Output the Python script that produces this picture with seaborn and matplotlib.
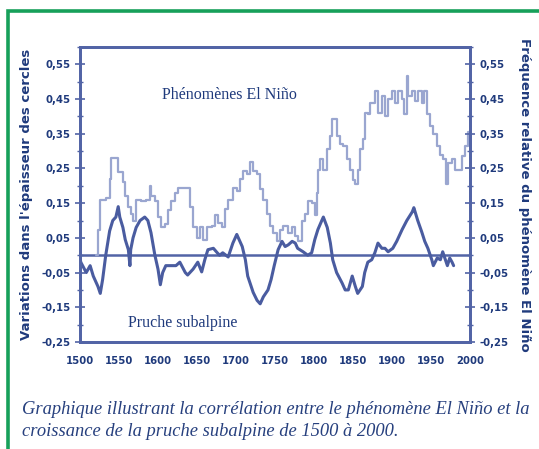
import matplotlib
matplotlib.use("Agg")
import matplotlib.pyplot as plt
import seaborn as sns
import pandas as pd
from matplotlib.patches import Rectangle
from matplotlib.ticker import MultipleLocator

# pruche subalpine : variations dans l'epaisseur des cercles
pruche_annees = [1500, 1501, 1508, 1513, 1517, 1523, 1526, 1529, 1533, 1538, 1542, 1546, 1549, 1551,
                 1555, 1558, 1562, 1564, 1565, 1568, 1572, 1577, 1583, 1587, 1591, 1596, 1600, 1603,
                 1606, 1610, 1617, 1623, 1628, 1635, 1638, 1645, 1651, 1656, 1660, 1664, 1671, 1676,
                 1679, 1683, 1690, 1696, 1701, 1708, 1712, 1715, 1722, 1727, 1731, 1735, 1741, 1745,
                 1749, 1754, 1759, 1763, 1767, 1772, 1776, 1779, 1786, 1792, 1797, 1801, 1805, 1810,
                 1812, 1817, 1821, 1824, 1829, 1836, 1840, 1844, 1849, 1853, 1856, 1862, 1865, 1869,
                 1874, 1878, 1882, 1887, 1891, 1895, 1901, 1906, 1913, 1919, 1926, 1928, 1933, 1938,
                 1942, 1946, 1951, 1953, 1958, 1962, 1965, 1971, 1974, 1977, 1979]
pruche_valeurs = [-0.008, -0.02, -0.05, -0.03, -0.06, -0.09, -0.11, -0.07, 0.0, 0.07, 0.10, 0.11, 0.14, 0.11,
                  0.08, 0.045, 0.016, -0.03, 0.016, 0.05, 0.08, 0.10, 0.11, 0.10, 0.065, 0.0, -0.04, -0.085,
                  -0.05, -0.03, -0.03, -0.03, -0.02, -0.05, -0.057, -0.04, -0.02, -0.048, -0.013, 0.016, 0.02, 0.007,
                  0.0, 0.007, -0.005, 0.035, 0.06, 0.025, -0.013, -0.06, -0.107, -0.13, -0.14, -0.12, -0.10, -0.07,
                  -0.03, 0.016, 0.04, 0.025, 0.03, 0.04, 0.035, 0.02, 0.01, 0.0, 0.007, 0.045, 0.074, 0.10,
                  0.11, 0.08, 0.035, -0.013, -0.05, -0.08, -0.10, -0.10, -0.06, -0.09, -0.11, -0.09, -0.05, -0.02,
                  -0.013, 0.007, 0.035, 0.02, 0.02, 0.01, 0.02, 0.04, 0.074, 0.10, 0.125, 0.137, 0.10, 0.068,
                  0.04, 0.02, -0.013, -0.03, -0.008, -0.013, 0.01, -0.03, -0.008, -0.02, -0.03]

# frequence relative du phenomene El Nino
nino_annees = [1521, 1523, 1526, 1533, 1538, 1540, 1546, 1549, 1553, 1555, 1558, 1562, 1565, 1568,
               1572, 1578, 1585, 1590, 1591, 1596, 1600, 1604, 1609, 1613, 1617, 1622, 1625, 1631,
               1637, 1641, 1645, 1650, 1654, 1658, 1663, 1669, 1673, 1677, 1682, 1686, 1690, 1696,
               1701, 1705, 1709, 1714, 1718, 1722, 1727, 1731, 1735, 1740, 1744, 1747, 1750, 1753,
               1756, 1760, 1767, 1772, 1776, 1779, 1785, 1788, 1792, 1797, 1801, 1804, 1805, 1808,
               1812, 1817, 1821, 1823, 1827, 1829, 1833, 1837, 1842, 1846, 1850, 1853, 1856, 1859,
               1863, 1865, 1869, 1872, 1874, 1878, 1882, 1887, 1891, 1895, 1900, 1904, 1908, 1913,
               1915, 1919, 1921, 1926, 1929, 1933, 1938, 1941, 1945, 1949, 1953, 1958, 1962, 1965,
               1969, 1972, 1977, 1981, 1985, 1990, 1994, 1997, 2000]
nino_valeurs = [0.0, 0.073, 0.16, 0.166, 0.22, 0.28, 0.28, 0.24, 0.24, 0.21, 0.17, 0.14, 0.12, 0.10,
                0.16, 0.155, 0.16, 0.20, 0.17, 0.155, 0.11, 0.08, 0.09, 0.13, 0.155, 0.18, 0.195, 0.195,
                0.195, 0.14, 0.08, 0.05, 0.08, 0.045, 0.08, 0.083, 0.117, 0.094, 0.08, 0.132, 0.16, 0.195,
                0.185, 0.22, 0.242, 0.233, 0.27, 0.242, 0.233, 0.19, 0.16, 0.12, 0.083, 0.065, 0.065, 0.04,
                0.074, 0.083, 0.065, 0.08, 0.055, 0.04, 0.10, 0.12, 0.155, 0.15, 0.117, 0.18, 0.247, 0.277,
                0.247, 0.305, 0.343, 0.393, 0.393, 0.343, 0.32, 0.315, 0.277, 0.247, 0.218, 0.204, 0.247, 0.305,
                0.334, 0.41, 0.407, 0.44, 0.44, 0.474, 0.41, 0.46, 0.40, 0.45, 0.474, 0.44, 0.474, 0.45,
                0.407, 0.517, 0.46, 0.474, 0.445, 0.474, 0.44, 0.474, 0.407, 0.372, 0.35, 0.315, 0.29, 0.277,
                0.204, 0.267, 0.277, 0.247, 0.247, 0.286, 0.315, 0.355, 0.334]

y_ticks = [-0.25, -0.15, -0.05, 0.05, 0.15, 0.25, 0.35, 0.45, 0.55]
y_tick_labels = ["-0,25", "-0,15", "-0,05", "0,05", "0,15", "0,25", "0,35", "0,45", "0,55"]
x_ticks = [1500, 1550, 1600, 1650, 1700, 1750, 1800, 1850, 1900, 1950, 2000]

pruche = pd.DataFrame({"annee": pruche_annees, "valeur": pruche_valeurs})
nino = pd.DataFrame({"annee": nino_annees, "valeur": nino_valeurs})

sns.set_theme(style="white")
navy = "#1f3a7c"
axe_col = "#5264a6"

fig = plt.figure(figsize=(5.39, 4.49), dpi=100)
fig.patch.set_facecolor("white")
fig.patches.append(Rectangle((8 / 539, -0.05), 1.1, 1 - 11 / 449 + 0.05, transform=fig.transFigure,
                             fill=False, edgecolor="#17a05a", linewidth=2.6))

ax = fig.add_axes([80 / 539, 1 - 342 / 449, 390 / 539, 295 / 449])
ax.set_facecolor("white")

sns.lineplot(data=nino, x="annee", y="valeur", ax=ax, color="#9aa6d0", linewidth=1.6,
             drawstyle="steps-post", sort=False)
sns.lineplot(data=pruche, x="annee", y="valeur", ax=ax, color="#4a5ca0", linewidth=2.2, sort=False)
ax.axhline(0, color=axe_col, linewidth=1.8, zorder=1)

ax.set_xlim(1500, 2000)
ax.set_ylim(-0.25, 0.6)
ax.set_xticks(x_ticks)
ax.set_xticklabels([str(t) for t in x_ticks], fontsize=7.3, fontweight="bold", color=navy)
ax.set_yticks(y_ticks)
ax.set_yticklabels(y_tick_labels, fontsize=7.3, fontweight="bold", color=navy)
ax.yaxis.set_minor_locator(MultipleLocator(0.05))
ax.tick_params(axis="x", direction="in", length=4, width=1.2, color=axe_col, pad=10)
ax.tick_params(axis="y", which="major", direction="inout", length=7, width=1.2, color=axe_col, pad=3, left=True)
ax.tick_params(axis="y", which="minor", direction="inout", length=5, width=1.0, color=axe_col, left=True)
ax.set_xlabel("")
ax.set_ylabel("Variations dans l'épaisseur des cercles", fontsize=9.5, fontweight="bold",
              color=navy, labelpad=6)
for s in ax.spines.values():
    s.set_color(axe_col)
    s.set_linewidth(2)

ax2 = ax.twinx()
ax2.set_ylim(-0.25, 0.6)
ax2.set_yticks(y_ticks)
ax2.set_yticklabels(y_tick_labels, fontsize=7.3, fontweight="bold", color=navy)
ax2.yaxis.set_minor_locator(MultipleLocator(0.05))
ax2.tick_params(axis="y", which="major", direction="inout", length=7, width=1.2, color=axe_col, pad=3, right=True)
ax2.tick_params(axis="y", which="minor", direction="inout", length=5, width=1.0, color=axe_col, right=True)
ax2.set_ylabel("Fréquence relative du phénomène El Niño", fontsize=9.5, fontweight="bold",
               color=navy, rotation=-90, labelpad=16)
for s in ax2.spines.values():
    s.set_color(axe_col)
    s.set_linewidth(2)

ax.text(1692, 0.462, "Phénomènes El Niño", fontsize=11.5, family="Liberation Serif",
        color=navy, ha="center", va="center")
ax.text(1632, -0.195, "Pruche subalpine", fontsize=11.5, family="Liberation Serif",
        color=navy, ha="center", va="center")

fig.text(22 / 539, 1 - 410 / 449,
         "Graphique illustrant la corrélation entre le phénomène El Niño et la",
         fontsize=13.3, family="Liberation Serif", style="italic", color="#27407e", va="center")
fig.text(22 / 539, 1 - 432 / 449,
         "croissance de la pruche subalpine de 1500 à 2000.",
         fontsize=13.3, family="Liberation Serif", style="italic", color="#27407e", va="center")

fig.savefig("out.png", dpi=100, facecolor="white")
